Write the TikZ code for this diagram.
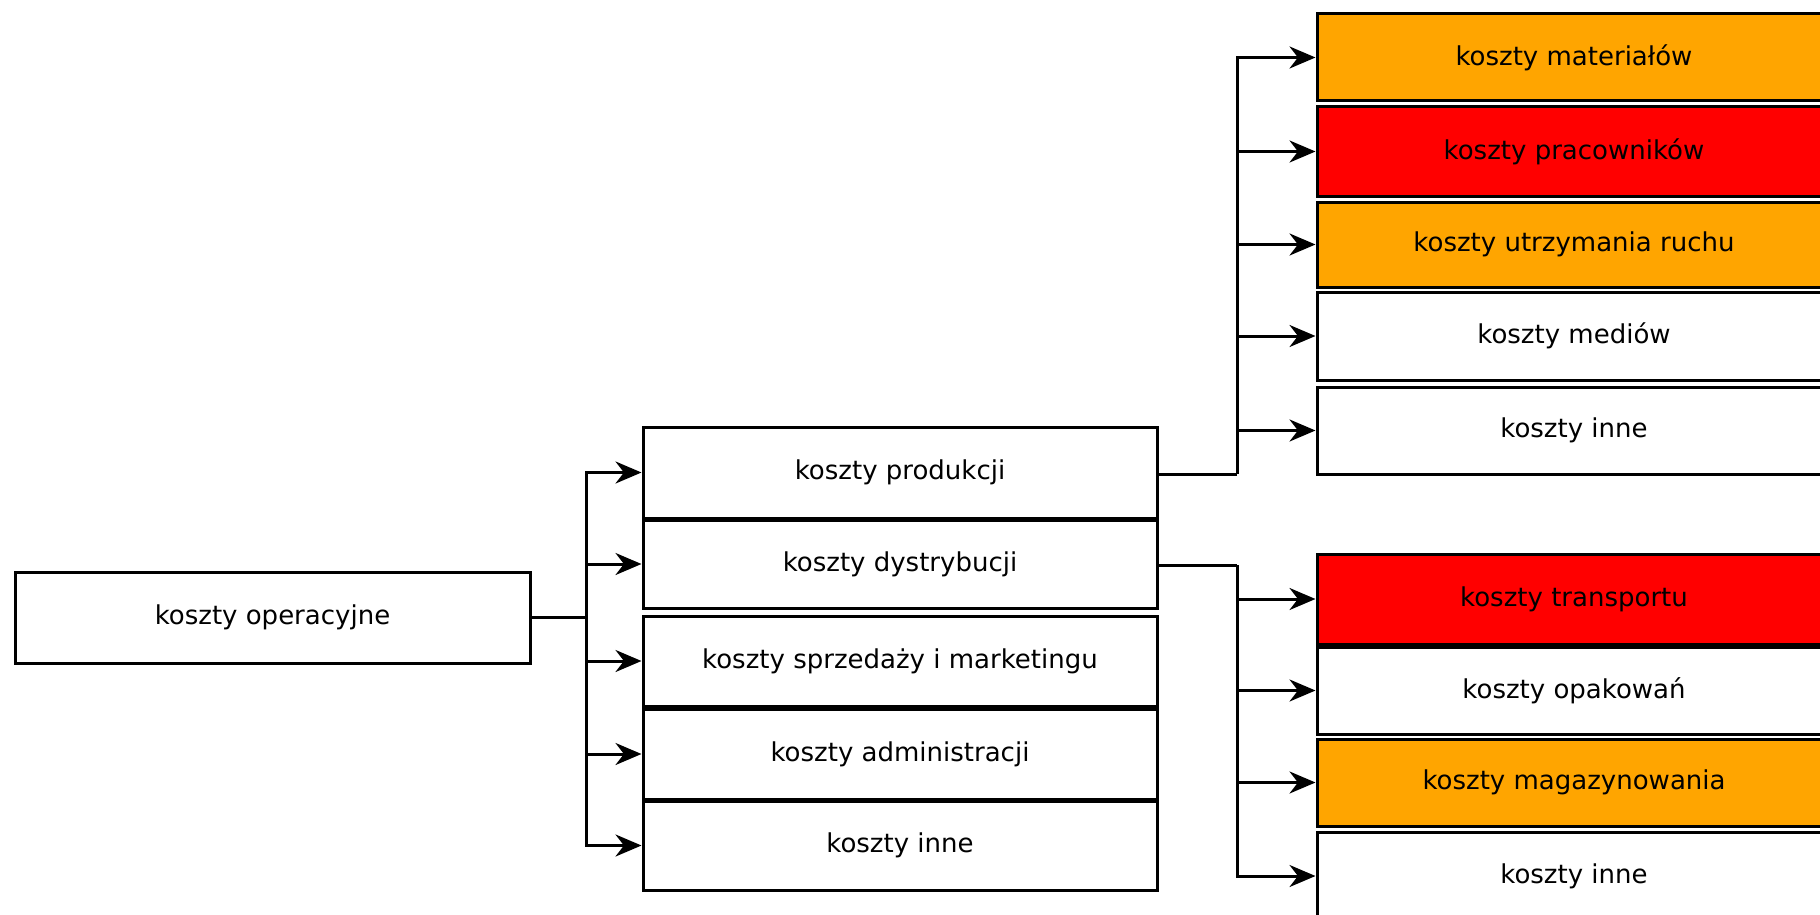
\documentclass[tikz,border=0pt]{standalone}
\usepackage{fontspec}
\setmainfont{DejaVu Sans}
\usetikzlibrary{arrows.meta}
\definecolor{boxorange}{RGB}{255,165,0}
\definecolor{boxred}{RGB}{255,0,0}
\begin{document}
\begin{tikzpicture}[x=1pt,y=1pt,
  box/.style={draw=black,line width=3pt,minimum width=514pt,minimum height=88pt,inner sep=0pt,
    font=\fontsize{26}{30}\selectfont,fill=white},
  obox/.style={box,fill=boxorange},
  rbox/.style={box,fill=boxred},
  arr/.style={line width=3pt,-{Stealth[length=26pt,width=22pt]}},
  conn/.style={line width=3pt}]
\useasboundingbox (0,0) rectangle (1820,-915);
\clip (0,0) rectangle (1820,-915);
\fill[white] (0,0) rectangle (1820,-915);
% level 0
\node[box,minimum width=515pt,minimum height=91pt] (op) at (272.5,-617.5) {koszty operacyjne};
% level 1
\node[box,minimum height=91pt] (prod) at (900,-472.5) {koszty produkcji};
\node[box] (dyst) at (900,-564) {koszty dystrybucji};
\node[box,minimum height=90pt] (sprz) at (900,-661) {koszty sprzedaży i marketingu};
\node[box,minimum height=90pt] (adm) at (900,-754) {koszty administracji};
\node[box,minimum height=89pt] (inne1) at (900,-845.5) {koszty inne};
% level 2 top
\node[obox,minimum height=87pt] (mat) at (1574,-57.5) {koszty materiałów};
\node[rbox,minimum height=89pt] (prac) at (1574,-151.5) {koszty pracowników};
\node[obox,minimum height=85pt] (ruch) at (1574,-244.5) {koszty utrzymania ruchu};
\node[box] (med) at (1574,-336) {koszty mediów};
\node[box,minimum height=87pt] (inne2) at (1574,-430.5) {koszty inne};
% level 2 bottom
\node[rbox,minimum height=90pt] (trans) at (1574,-599) {koszty transportu};
\node[box,minimum height=87pt] (opak) at (1574,-690.5) {koszty opakowań};
\node[obox,minimum height=87pt] (mag) at (1574,-782.5) {koszty magazynowania};
\node[box] (inne3) at (1574,-876) {koszty inne};
% connectors level 0 -> 1
\coordinate (j0) at (586,-617.5);
\draw[conn] (op.east) -- (j0);
\foreach \t in {prod,dyst,sprz,adm,inne1}{\draw[arr] (j0) |- (\t.west);}
% connectors produkcji -> top group
\coordinate (j1) at (1237,-474);
\draw[conn] (prod.east |- j1) -- (j1);
\foreach \t in {mat,prac,ruch,med,inne2}{\draw[arr] (j1) |- (\t.west);}
% connectors dystrybucji -> bottom group
\coordinate (j2) at (1237,-565);
\draw[conn] (dyst.east |- j2) -- (j2);
\foreach \t in {trans,opak,mag,inne3}{\draw[arr] (j2) |- (\t.west);}
\end{tikzpicture}
\end{document}
